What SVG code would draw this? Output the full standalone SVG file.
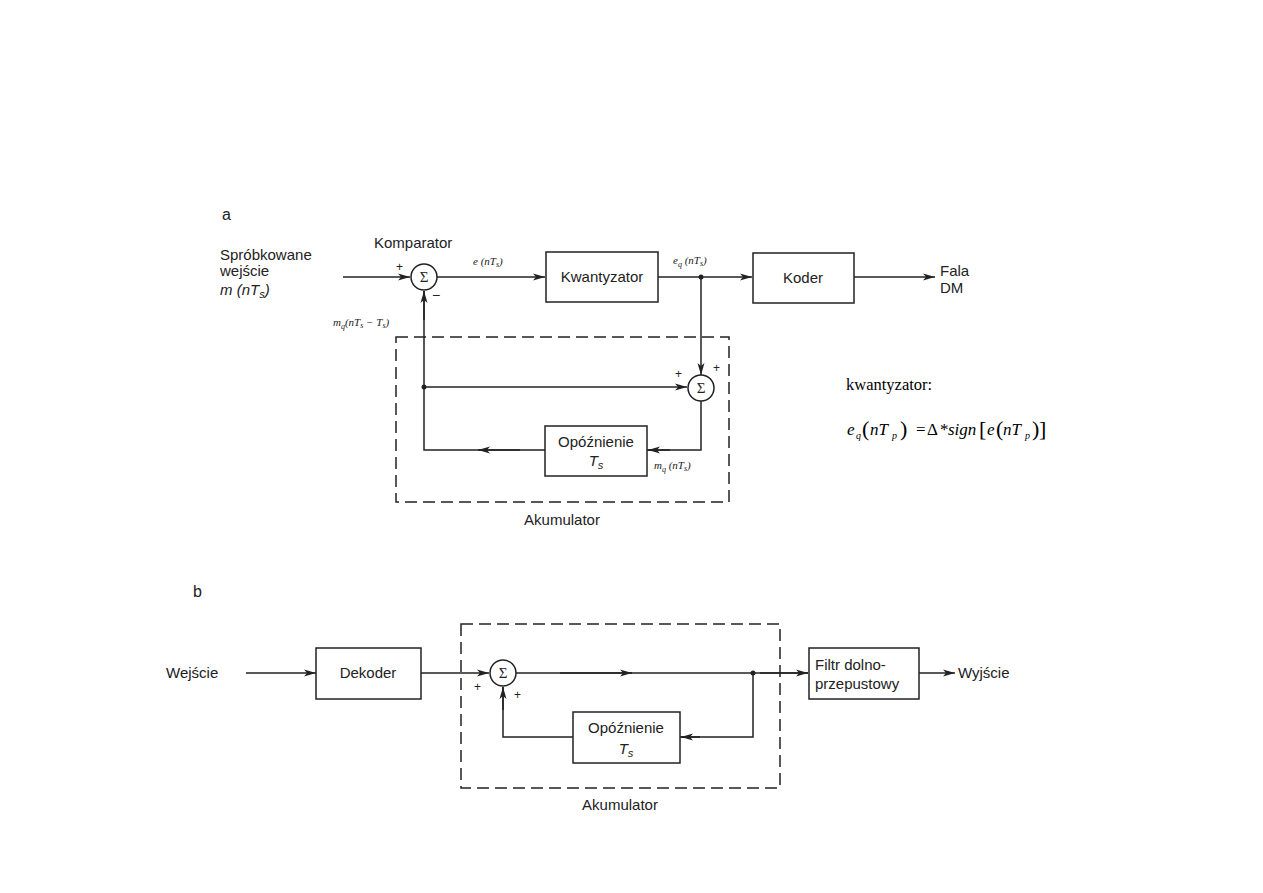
<svg xmlns="http://www.w3.org/2000/svg" width="1263" height="893" viewBox="0 0 1263 893">
<style>
.bg{fill:#fff}
.box{fill:#fff;stroke:#222;stroke-width:1.5}
.sum{fill:#fff;stroke:#222;stroke-width:1.5}
.ln{fill:none;stroke:#222;stroke-width:1.5}
.dash{fill:none;stroke:#222;stroke-width:1.5;stroke-dasharray:12,6}
.t{font-family:"Liberation Sans",Arial,sans-serif;font-size:15px;fill:#222}
.tc{font-family:"Liberation Sans",Arial,sans-serif;font-size:15px;fill:#222;text-anchor:middle}
.pm{font-family:"Liberation Sans",Arial,sans-serif;font-size:12px;fill:#222}
.lbl{font-family:"Liberation Serif","Times New Roman",serif;font-size:11px;font-style:italic;fill:#222}
.sig{font-family:"Liberation Serif","Times New Roman",serif;font-size:15px;fill:#222;text-anchor:middle}
.kw{font-family:"Liberation Serif","Times New Roman",serif;font-size:16.5px;fill:#000}
.f{font-family:"Liberation Serif","Times New Roman",serif;font-size:17px;fill:#000}
.fi{font-style:italic}
.fs{font-style:italic;font-size:10px}
.fp{font-size:22px}
</style>
<defs>
<marker id="ar" viewBox="0 0 12 8" refX="12" refY="4" markerWidth="12" markerHeight="8" markerUnits="userSpaceOnUse" orient="auto">
<path d="M0,0.5 L12,4 L0,7.5 L3,4 Z" fill="#222"/>
</marker>
</defs>
<rect class="bg" x="0" y="0" width="1263" height="893"/>

<g id="connectors">
<!-- part a -->
<line class="ln" x1="343" y1="277" x2="410" y2="277" marker-end="url(#ar)"/>
<line class="ln" x1="437" y1="277" x2="545" y2="277" marker-end="url(#ar)"/>
<line class="ln" x1="658" y1="277" x2="752" y2="277" marker-end="url(#ar)"/>
<line class="ln" x1="854" y1="277" x2="935" y2="277" marker-end="url(#ar)"/>
<line class="ln" x1="701" y1="277" x2="701" y2="375" marker-end="url(#ar)"/>
<line class="ln" x1="424" y1="387" x2="687" y2="387" marker-end="url(#ar)"/>
<polyline class="ln" points="701,401 701,450 647,450"/>
<line class="ln" x1="670" y1="450" x2="648" y2="450" marker-end="url(#ar)"/>
<polyline class="ln" points="545,450 424,450 424,291"/>
<line class="ln" x1="520" y1="450" x2="478" y2="450" marker-end="url(#ar)"/>
<line class="ln" x1="424" y1="320" x2="424" y2="291" marker-end="url(#ar)"/>
<circle cx="701" cy="277" r="2.5" fill="#222"/>
<circle cx="424" cy="387" r="2.5" fill="#222"/>
<!-- part b -->
<line class="ln" x1="246" y1="673" x2="316" y2="673" marker-end="url(#ar)"/>
<line class="ln" x1="421" y1="673" x2="489" y2="673" marker-end="url(#ar)"/>
<line class="ln" x1="516" y1="673" x2="808" y2="673"/>
<line class="ln" x1="560" y1="673" x2="632" y2="673" marker-end="url(#ar)"/>
<line class="ln" x1="760" y1="673" x2="808" y2="673" marker-end="url(#ar)"/>
<polyline class="ln" points="753,673 753,737 680,737"/>
<line class="ln" x1="700" y1="737" x2="681" y2="737" marker-end="url(#ar)"/>
<polyline class="ln" points="573,737 503,737 503,687"/>
<line class="ln" x1="503" y1="710" x2="503" y2="687" marker-end="url(#ar)"/>
<line class="ln" x1="919" y1="673" x2="955" y2="673" marker-end="url(#ar)"/>
<circle cx="753" cy="673" r="2.5" fill="#222"/>
</g>

<text class="t" x="222" y="220" style="font-size:16px">a</text>
<text class="t" x="193" y="597" style="font-size:16px">b</text>

<g id="input-a">
<text class="t" x="220" y="260">Spróbkowane</text>
<text class="t" x="220" y="276">wejście</text>
<text class="t" x="220" y="295" font-style="italic">m (nT<tspan font-size="11" dy="3">s</tspan><tspan dy="-3">)</tspan></text>
</g>

<g id="komparator">
<text class="t" x="374" y="248">Komparator</text>
<circle class="sum" cx="424" cy="277" r="13"/>
<text class="sig" x="424" y="282">Σ</text>
<text class="pm" x="396" y="271">+</text>
<text class="pm" x="432" y="300" style="font-size:14px">−</text>
</g>

<g id="kwantyzator">
<rect class="box" x="546" y="252" width="112" height="50"/>
<text class="tc" x="602" y="282">Kwantyzator</text>
</g>

<g id="koder">
<rect class="box" x="753" y="253" width="101" height="50"/>
<text class="tc" x="803" y="283">Koder</text>
</g>

<g id="fala-dm">
<text class="t" x="940" y="276">Fala</text>
<text class="t" x="940" y="293">DM</text>
</g>

<g id="labels-a">
<text class="lbl" x="473" y="265">e (nT<tspan font-size="8" dy="2">s</tspan><tspan dy="-2">)</tspan></text>
<text class="lbl" x="673" y="264">e<tspan font-size="8" dy="3">q</tspan><tspan dy="-3"> (nT</tspan><tspan font-size="8" dy="2">s</tspan><tspan dy="-2">)</tspan></text>
<text class="lbl" x="333" y="326">m<tspan font-size="8" dy="3">q</tspan><tspan dy="-3">(nT</tspan><tspan font-size="8" dy="2">s</tspan><tspan dy="-2"> − T</tspan><tspan font-size="8" dy="2">s</tspan><tspan dy="-2">)</tspan></text>
<text class="lbl" x="654" y="469">m<tspan font-size="8" dy="3">q</tspan><tspan dy="-3"> (nT</tspan><tspan font-size="8" dy="2">s</tspan><tspan dy="-2">)</tspan></text>
</g>

<g id="akumulator-a">
<rect class="dash" x="396" y="337" width="333" height="165"/>
<text class="tc" x="562" y="525">Akumulator</text>
</g>

<g id="sum-a2">
<circle class="sum" cx="701" cy="388" r="13"/>
<text class="sig" x="701" y="393">Σ</text>
<text class="pm" x="675" y="378">+</text>
<text class="pm" x="713" y="372">+</text>
</g>

<g id="opoznienie-a">
<rect class="box" x="545" y="426" width="102" height="50"/>
<text class="tc" x="596" y="447">Opóźnienie</text>
<text class="tc" x="596" y="466" font-style="italic">T<tspan font-size="11" dy="3">s</tspan></text>
</g>

<g id="formula">
<text class="kw" x="846" y="390">kwantyzator:</text>
<text class="f" y="435"><tspan class="fi" x="847">e</tspan><tspan class="fs" x="856" y="439">q</tspan><tspan class="fp" x="862" y="436">(</tspan><tspan class="fi" x="870" y="435">nT</tspan><tspan class="fs" x="892" y="439">p</tspan><tspan class="fp" x="900" y="436">)</tspan><tspan x="916" y="435">=</tspan><tspan x="927">Δ</tspan><tspan x="940">*</tspan><tspan class="fi" x="948">sign</tspan><tspan class="fp" x="979" y="436">[</tspan><tspan class="fi" x="987" y="435">e</tspan><tspan class="fp" x="996" y="436">(</tspan><tspan class="fi" x="1003" y="435">nT</tspan><tspan class="fs" x="1025" y="439">p</tspan><tspan class="fp" x="1032" y="436">)</tspan><tspan class="fp" x="1039" y="436">]</tspan></text>
</g>

<g id="wejscie-b">
<text class="t" x="166" y="678">Wejście</text>
</g>

<g id="dekoder">
<rect class="box" x="316" y="648" width="105" height="51"/>
<text class="tc" x="368" y="678">Dekoder</text>
</g>

<g id="akumulator-b">
<rect class="dash" x="461" y="624" width="319" height="164"/>
<text class="tc" x="620" y="810">Akumulator</text>
</g>

<g id="sum-b">
<circle class="sum" cx="503" cy="673" r="13"/>
<text class="sig" x="503" y="678">Σ</text>
<text class="pm" x="474" y="691">+</text>
<text class="pm" x="514" y="699">+</text>
</g>

<g id="opoznienie-b">
<rect class="box" x="573" y="712" width="107" height="51"/>
<text class="tc" x="626" y="733">Opóźnienie</text>
<text class="tc" x="626" y="754" font-style="italic">T<tspan font-size="11" dy="3">s</tspan></text>
</g>

<g id="filtr">
<rect class="box" x="809" y="648" width="110" height="51"/>
<text class="t" x="815" y="670">Filtr dolno-</text>
<text class="t" x="815" y="689">przepustowy</text>
</g>

<g id="wyjscie">
<text class="t" x="958" y="678">Wyjście</text>
</g>
</svg>
